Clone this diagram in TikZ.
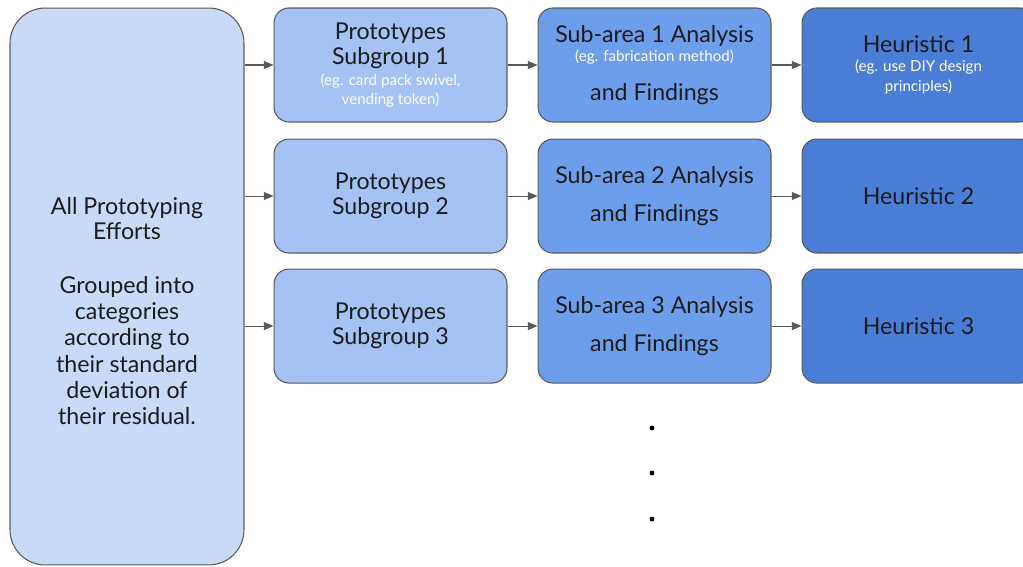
\documentclass[tikz,border=0pt]{standalone}
\usepackage{fontspec}
\setmainfont{Lato}
\usetikzlibrary{arrows.meta,positioning}
\definecolor{allfill}{RGB}{201,218,248}
\definecolor{groupfill}{RGB}{164,194,244}
\definecolor{areafill}{RGB}{109,158,235}
\definecolor{heurfill}{RGB}{74,125,214}
\definecolor{edge}{RGB}{89,89,89}
\definecolor{ink}{RGB}{28,28,28}
\newcommand{\eg}[1]{{\color{white}\fontsize{8.6}{10}\selectfont #1}}

\begin{document}
\begin{tikzpicture}[x=0.02cm, y=-0.02cm,
  box/.style={rectangle, draw=edge, line width=0.6pt, rounded corners=8.5pt,
              minimum width=4.66cm, minimum height=2.28cm, inner sep=0pt,
              fill=#1, align=center, text=ink,
              font=\fontsize{13.2}{15}\selectfont},
  link/.style={draw=edge, line width=0.6pt,
               -{Triangle[length=5.5pt,width=4.5pt]}}
]
  \useasboundingbox (0,0) rectangle (1023,567);

  % Left box — all efforts
  \node[box=allfill, minimum width=4.68cm, minimum height=11.14cm,
        rounded corners=20pt] (all) at (127,286.5) {};
  \node[align=center, text=ink, font=\fontsize{13.2}{15}\selectfont]
    (alltext) at (127,311) {All Prototyping\\[-0.8pt] Efforts\\[15.7pt]
    Grouped into\\ categories\\ according to\\ their standard\\
    deviation of\\ their residual.};

  % Prototype subgroups
  \node[box=groupfill] (g1) at (390.5,65) {Prototypes\\[-0.8pt] Subgroup 1\\[-3.2pt]
    \eg{(eg. card pack swivel,}\\[-4.2pt] \eg{vending token)}};
  \node[box=groupfill, below=0.32cm of g1] (g2) {Prototypes\\[-0.8pt] Subgroup 2};
  \node[box=groupfill, below=0.3cm of g2] (g3) {Prototypes\\[-0.8pt] Subgroup 3};

  % Sub-area analysis
  \node[box=areafill, right=0.6cm of g1] (a1) {Sub-area 1 Analysis\\[-3.8pt]
    \eg{(eg. fabrication method)}\\[7pt] and Findings};
  \node[box=areafill, right=0.6cm of g2] (a2) {Sub-area 2 Analysis\\[7pt] and Findings};
  \node[box=areafill, right=0.6cm of g3] (a3) {Sub-area 3 Analysis\\[7pt] and Findings};

  % Heuristics
  \node[box=heurfill, right=0.6cm of a1] (h1) {Heuristic 1\\[-4.2pt]
    \eg{(eg. use DIY design}\\[-3.6pt] \eg{principles)}};
  \node[box=heurfill, right=0.6cm of a2] (h2) {Heuristic 2};
  \node[box=heurfill, right=0.6cm of a3] (h3) {Heuristic 3};

  % Connectors
  \foreach \i in {1,2,3} {
    \draw[link] (all.east |- g\i.west) -- (g\i.west);
    \draw[link] (g\i) -- (a\i);
    \draw[link] (a\i) -- (h\i);
  }

  % More rows
  \foreach \y in {428,473,519}
    \fill (652,\y) circle (1.4pt);
\end{tikzpicture}
\end{document}
